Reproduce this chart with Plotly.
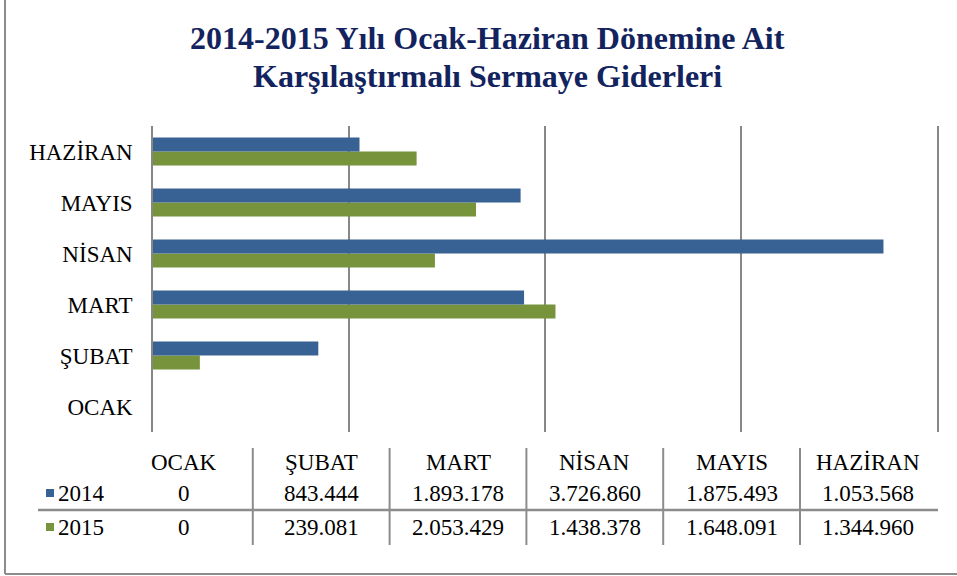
import plotly.graph_objects as go

months = ["OCAK", "ŞUBAT", "MART", "NİSAN", "MAYIS", "HAZİRAN"]
series_names = ["2014", "2015"]
values_2014 = [0, 843444, 1893178, 3726860, 1875493, 1053568]
values_2015 = [0, 239081, 2053429, 1438378, 1648091, 1344960]
title_lines = ["2014-2015 Yılı Ocak-Haziran Dönemine Ait", "Karşılaştırmalı Sermaye Giderleri"]

W, H = 957, 576
L, R, T, B = 153, 20, 126, 144
PW, PH = W - L - R, H - T - B

def px(x):
    return (x - L) / PW

def py(y):
    return (H - B - y) / PH

blue = "#386194"
green = "#77943D"
grid = "#878787"
border = "#8C8C8C"
navy = "#12235E"
font_family = "Liberation Serif"
fs = 23

def fmt(v):
    return f"{v:,}".replace(",", ".")

fig = go.Figure()
fig.add_trace(go.Bar(y=months, x=values_2015, orientation="h", name=series_names[1],
                     marker=dict(color=green, line=dict(width=0))))
fig.add_trace(go.Bar(y=months, x=values_2014, orientation="h", name=series_names[0],
                     marker=dict(color=blue, line=dict(width=0))))

annotations = []
for i, line in enumerate(title_lines):
    annotations.append(dict(text=f"<b>{line}</b>", x=px(487), y=py(38 + 38 * i), xref="paper", yref="paper",
                            showarrow=False, xanchor="center", yanchor="middle",
                            font=dict(family=font_family, size=32, color=navy)))

col_left, col_w = 116, 136.8
for i, m in enumerate(months):
    cx = col_left + col_w * (i + 0.5)
    annotations.append(dict(text=m, x=px(cx), y=py(462), xref="paper", yref="paper", showarrow=False,
                            xanchor="center", yanchor="middle", font=dict(family=font_family, size=fs, color="black")))
    annotations.append(dict(text=fmt(values_2014[i]), x=px(cx), y=py(493), xref="paper", yref="paper", showarrow=False,
                            xanchor="center", yanchor="middle", font=dict(family=font_family, size=fs, color="black")))
    annotations.append(dict(text=fmt(values_2015[i]), x=px(cx), y=py(527), xref="paper", yref="paper", showarrow=False,
                            xanchor="center", yanchor="middle", font=dict(family=font_family, size=fs, color="black")))

for name, yy in zip(series_names, [493, 527]):
    annotations.append(dict(text=name, x=px(56), y=py(yy), xref="paper", yref="paper", showarrow=False,
                            xanchor="left", yanchor="middle", font=dict(family=font_family, size=fs, color="black")))

shapes = []
for color, yy in zip([blue, green], [493, 527]):
    shapes.append(dict(type="rect", xref="paper", yref="paper", x0=px(46), x1=px(54), y0=py(yy - 4), y1=py(yy + 4),
                       fillcolor=color, line=dict(width=0)))
for i in range(1, 6):
    xx = col_left + col_w * i
    shapes.append(dict(type="line", xref="paper", yref="paper", x0=px(xx), x1=px(xx), y0=py(448), y1=py(545),
                       line=dict(color=border, width=2)))
shapes.append(dict(type="line", xref="paper", yref="paper", x0=px(38), x1=px(938), y0=py(510), y1=py(510),
                   line=dict(color=border, width=2.5)))
# outer border
shapes.append(dict(type="line", xref="paper", yref="paper", x0=px(5), x1=px(5), y0=py(0), y1=py(574),
                   line=dict(color=border, width=2)))
shapes.append(dict(type="line", xref="paper", yref="paper", x0=px(5), x1=px(957), y0=py(574), y1=py(574),
                   line=dict(color=border, width=2)))

fig.update_layout(
    width=W, height=H,
    margin=dict(l=L, r=R, t=T, b=B),
    paper_bgcolor="white", plot_bgcolor="white",
    barmode="group", bargap=0.45, bargroupgap=0,
    showlegend=False,
    annotations=annotations,
    shapes=shapes,
    xaxis=dict(range=[0, 4000000], dtick=1000000, showticklabels=False, showgrid=True,
               gridcolor=grid, gridwidth=1.5, zeroline=False, showline=False, fixedrange=True),
    yaxis=dict(categoryorder="array", categoryarray=months, showgrid=False, showline=True, mirror=True,
               linecolor=grid, linewidth=1.5, ticks="", ticklabelstandoff=14,
               tickfont=dict(family=font_family, size=fs, color="black"), fixedrange=True),
)

fig.write_html("out.html", config={"displayModeBar": False},
               post_script="document.body.style.margin='0px';document.body.style.overflow='hidden';")
